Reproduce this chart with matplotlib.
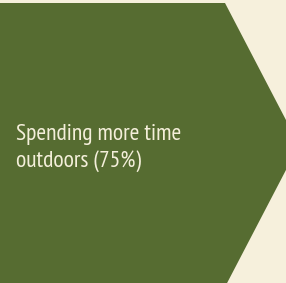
import matplotlib
matplotlib.use("Agg")
import matplotlib.pyplot as plt
from matplotlib.patches import Polygon

# data
label = "Spending more time\noutdoors"
share = 75

bg = "#f6f0dc"
green = "#566c31"
text_col = "#f4efda"

W, H = 286, 283
fig = plt.figure(figsize=(W / 100, H / 100), dpi=100, facecolor=bg)
ax = fig.add_axes([0, 0, 1, 1])
ax.set_xlim(0, W)
ax.set_ylim(H, 0)
ax.axis("off")

# chevron shape: rectangular body then a pointed tip on the right
top, bottom = 3, 287
body_end = 225
depth = 74
mid = (top + bottom) / 2
shape = Polygon([(-2, top), (body_end, top), (body_end + depth, mid),
                 (body_end, bottom), (-2, bottom)],
                closed=True, facecolor=green, edgecolor="none")
ax.add_patch(shape)

ax.text(16, 167, f"{label} ({share}%)", color=text_col, fontsize=17,
        family=["PT Sans Narrow", "DejaVu Sans"], stretch="condensed",
        va="baseline", ha="left", linespacing=1.32)

fig.savefig("out.png", dpi=100, facecolor=bg)
